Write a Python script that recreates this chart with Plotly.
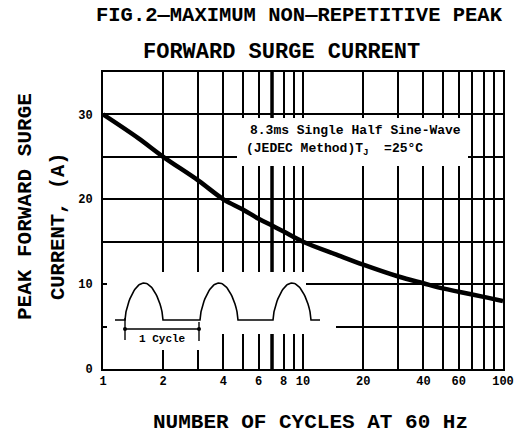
import numpy as np
import plotly.graph_objects as go

# ---- data ----
cycles = [1, 1.5, 2, 3, 4, 5, 6, 7, 8, 10, 15, 20, 30, 40, 50, 60, 80, 100]
surge_current = [30, 27.2, 25, 22.2, 20, 18.8, 17.7, 16.9, 16.2, 15, 13.4, 12.3, 10.9, 10.1, 9.5, 9.1, 8.5, 8.0]

x_grid_vals = [1, 2, 3, 4, 5, 6, 7, 8, 9, 10, 20, 30, 40, 50, 60, 70, 80, 90, 100]
x_tick_text = ["1", "2", "", "4", "", "6", "", "8", "", "10", "20", "", "40", "", "60", "", "", "", "100"]
y_grid_vals = [0, 5, 10, 15, 20, 25, 30, 35]
y_tick_text = ["0", "", "10", "", "20", "", "30", ""]
thick_grid_x = [7]

# plot-area geometry (pixels in the 514x437 image)
W, H = 514, 437
L, R, T, B = 103, 503, 72, 369

def px(x):
    return (x - L) / (R - L)

def py(y):
    return (B - y) / (B - T)

FONT = "Liberation Mono"
NOHOVER = dict(hoverinfo="skip", showlegend=False)

fig = go.Figure()

# thicker grid line at 7 (main axes)
for xv in thick_grid_x:
    fig.add_trace(go.Scatter(x=[xv, xv], y=[0, 35], mode="lines",
                             line=dict(color="black", width=3.5), **NOHOVER))

# main curve
fig.add_trace(go.Scatter(x=cycles, y=surge_current, mode="lines",
                         line=dict(color="black", width=4.5, shape="spline"), **NOHOVER))

# ---- white masks hiding parts of the grid (overlay, plot-fraction coords) ----
for x0, x1, y0, y1 in [(107, 306, 272, 334), (107, 206, 334, 350), (306, 336, 292, 334), (237, 468, 118, 166)]:
    fig.add_trace(go.Scatter(x=[px(x0), px(x1), px(x1), px(x0), px(x0)],
                             y=[py(y0), py(y0), py(y1), py(y1), py(y0)],
                             xaxis="x2", yaxis="y2", mode="lines", fill="toself",
                             fillcolor="white", line=dict(width=0, color="white"), **NOHOVER))

# ---- inset waveform sketch ----
wave_start, wave_end = px(115), px(320)
hump_starts = [px(125), px(200), px(273)]
hump_width = px(163) - px(125)
base_y, peak_y = py(320), py(283)
wx, wy = [wave_start], [base_y]
for hs in hump_starts:
    t = np.linspace(0, 1, 40)
    wx += list(hs + t * hump_width)
    wy += list(base_y + (peak_y - base_y) * np.sin(np.pi * t) ** 0.6)
wx.append(wave_end)
wy.append(base_y)
fig.add_trace(go.Scatter(x=wx, y=wy, xaxis="x2", yaxis="y2", mode="lines",
                         line=dict(color="black", width=1.6), **NOHOVER))
# cycle marker
cy = py(329)
fig.add_trace(go.Scatter(x=[px(125), px(199)], y=[cy, cy], xaxis="x2", yaxis="y2",
                         mode="lines+markers", marker=dict(size=4, color="black"),
                         line=dict(color="black", width=1.4), **NOHOVER))
for xb, y0, y1 in [(125, 318, 340), (199, 322, 341)]:
    fig.add_trace(go.Scatter(x=[px(xb), px(xb)], y=[py(y0), py(y1)], xaxis="x2", yaxis="y2",
                             mode="lines", line=dict(color="black", width=1.4), **NOHOVER))

annotations = [
    dict(text="<b>FIG.2—MAXIMUM NON—REPETITIVE PEAK</b>", x=px(299), y=py(15),
         font=dict(size=20.5, family=FONT, color="black")),
    dict(text="<b>FORWARD SURGE CURRENT</b>", x=px(281), y=py(52),
         font=dict(size=22, family=FONT, color="black")),
    dict(text="<b>NUMBER OF CYCLES AT 60 Hz</b>", x=px(310), y=py(422),
         font=dict(size=21, family=FONT, color="black")),
    dict(text="<b>PEAK FORWARD SURGE</b>", x=px(25), y=py(207), textangle=-90,
         font=dict(size=21, family=FONT, color="black")),
    dict(text="<b>CURRENT, (A)</b>", x=px(58), y=py(226), textangle=-90,
         font=dict(size=20.5, family=FONT, color="black")),
    dict(text="<b>8.3ms Single Half Sine-Wave</b>", x=px(248), y=py(130), xanchor="left",
         font=dict(size=13, family=FONT, color="black")),
    dict(text="<b>(JEDEC Method)T<sub>J</sub>  =25°C</b>", x=px(244), y=py(149), xanchor="left",
         font=dict(size=13, family=FONT, color="black")),
    dict(text="<b>1 Cycle</b>", x=px(162), y=py(339),
         font=dict(size=11, family=FONT, color="black")),
]
for a in annotations:
    a.update(xref="paper", yref="paper", showarrow=False)
    a.setdefault("xanchor", "center")
    a.setdefault("yanchor", "middle")

fig.update_layout(
    width=W, height=H,
    margin=dict(l=L, r=W - R, t=T, b=H - B, autoexpand=False),
    paper_bgcolor="white", plot_bgcolor="white",
    showlegend=False,
    annotations=annotations,
    xaxis=dict(type="log", range=[0, 2], tickvals=x_grid_vals, ticktext=x_tick_text,
               showgrid=True, gridcolor="black", gridwidth=1.5,
               showline=True, linecolor="black", linewidth=2, mirror=True,
               ticks="", zeroline=False,
               tickfont=dict(size=12, family=FONT, color="black", weight="bold")),
    yaxis=dict(range=[0, 35], tickvals=y_grid_vals, ticktext=y_tick_text,
               showgrid=True, gridcolor="black", gridwidth=1.5,
               showline=True, linecolor="black", linewidth=2, mirror=True,
               ticks="", ticklabelstandoff=6, zeroline=False,
               tickfont=dict(size=12, family=FONT, color="black", weight="bold")),
    xaxis2=dict(overlaying="x", range=[0, 1], visible=False, fixedrange=True),
    yaxis2=dict(overlaying="y", range=[0, 1], visible=False, fixedrange=True),
)

fig.write_html("out.html", config={"displayModeBar": False},
               post_script="document.body.style.margin='0';document.body.style.overflow='hidden';")
